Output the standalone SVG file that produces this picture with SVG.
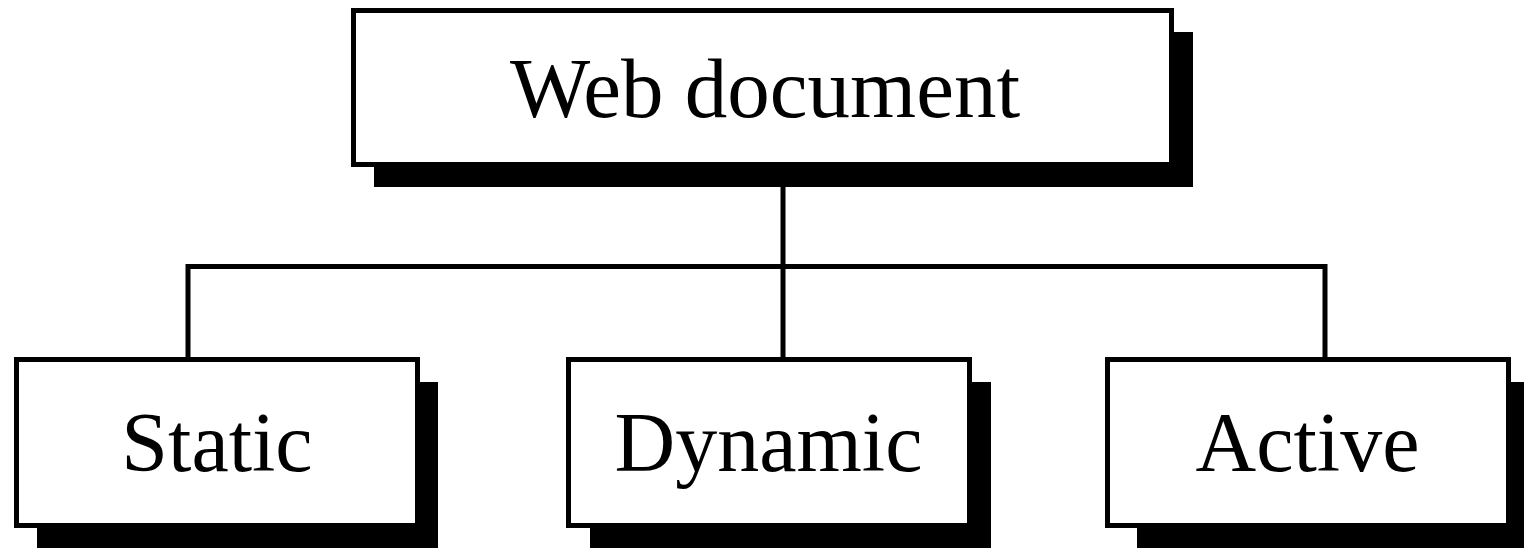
<svg xmlns="http://www.w3.org/2000/svg" width="1524" height="548" viewBox="0 0 1524 548">
  <style>
    .shadow { fill: #000; stroke: none; }
    .box { fill: #fff; stroke: #000; stroke-width: 5; }
    .label { font-family: "Liberation Serif", "Times New Roman", serif; fill: #000; text-anchor: middle; }
    .top { font-size: 85px; }
    .sub { font-size: 84px; }
    .conn { fill: none; stroke: #000; stroke-width: 5; stroke-linejoin: miter; }
  </style>
  <rect width="1524" height="548" fill="#fff"/>
  <g id="connectors">
    <path class="conn" d="M188 359 V266.5 H1325 V359"/>
    <path class="conn" d="M783 167 V359"/>
  </g>
  <g id="node-web-document">
    <rect class="shadow" x="374" y="32" width="819" height="155"/>
    <rect class="box" x="353.5" y="10.5" width="818" height="154"/>
    <text class="label top" x="765" y="117">Web document</text>
  </g>
  <g id="node-static">
    <rect class="shadow" x="37" y="382" width="401" height="170"/>
    <rect class="box" x="16.5" y="359.5" width="401" height="166"/>
    <text class="label sub" x="217" y="471">Static</text>
  </g>
  <g id="node-dynamic">
    <rect class="shadow" x="590" y="382" width="401" height="170"/>
    <rect class="box" x="568.5" y="359.5" width="401" height="166"/>
    <text class="label sub" x="768.5" y="471">Dynamic</text>
  </g>
  <g id="node-active">
    <rect class="shadow" x="1137" y="382" width="401" height="170"/>
    <rect class="box" x="1107.5" y="359.5" width="401" height="166"/>
    <text class="label sub" x="1307.5" y="471">Active</text>
  </g>
</svg>
